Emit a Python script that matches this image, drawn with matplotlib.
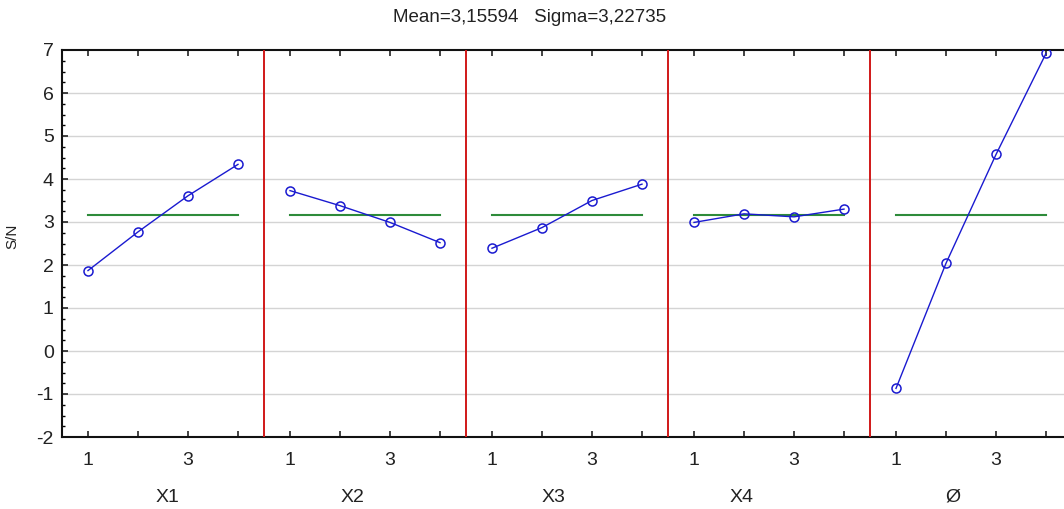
import matplotlib
matplotlib.use("Agg")
import matplotlib.pyplot as plt
from matplotlib.ticker import MultipleLocator, FixedLocator

plt.rcParams['font.family'] = ['Liberation Sans', 'DejaVu Sans']
plt.rcParams['axes.unicode_minus'] = False

# ---- data ----
groups = ["X1", "X2", "X3", "X4", "Ø"]
levels = [1, 2, 3, 4]
level_labels = ["1", "", "3", ""]
values_x1 = [1.87, 2.77, 3.61, 4.34]
values_x2 = [3.73, 3.38, 2.99, 2.52]
values_x3 = [2.39, 2.87, 3.50, 3.88]
values_x4 = [2.99, 3.19, 3.12, 3.30]
values_phi = [-0.87, 2.04, 4.57, 6.92]
series = [values_x1, values_x2, values_x3, values_x4, values_phi]
mean_value = 3.15594
sigma_value = 3.22735
title_text = "Mean=3,15594   Sigma=3,22735"
y_label = "S/N"

# ---- layout ----
W, H = 1064, 509
fig = plt.figure(figsize=(W / 100, H / 100), dpi=100)
step = 4.04
x_left, x_right = 0.48, 4 * step + 4.52
ax_l, ax_r, ax_t, ax_b = 62, 1072, 50, 437
ax = fig.add_axes([ax_l / W, 1 - ax_b / H, (ax_r - ax_l) / W, (ax_b - ax_t) / H])
ax.set_xlim(x_left, x_right)
ax.set_ylim(-2, 7)

# grid
for y in range(-1, 7):
    ax.axhline(y, color="#d4d4d4", lw=1.0, zorder=0)

ticks = []
tick_labels = []
for g, vals in enumerate(series):
    xs = [g * step + l for l in levels]
    ticks += xs
    tick_labels += level_labels
    ax.plot([xs[0], xs[-1]], [mean_value, mean_value], color="#2e8b3a", lw=1.5, zorder=2)
    ax.plot(xs, vals, color="#1a1ad0", lw=1.0, marker="o", ms=6.5, mfc="none",
            mec="#1a1ad0", mew=1.1, zorder=3)
    if g < len(series) - 1:
        ax.axvline(g * step + 4.52, color="#d01818", lw=1.4, zorder=4)

ax.xaxis.set_major_locator(FixedLocator(ticks))
ax.set_xticklabels(tick_labels)
ax.yaxis.set_major_locator(MultipleLocator(1))
ax.yaxis.set_minor_locator(MultipleLocator(0.25))
ax.tick_params(axis="x", direction="in", length=4, width=1.2, top=True, labelsize=14,
               pad=11, colors="#222222")
ax.tick_params(axis="y", which="major", direction="in", length=4, width=1.2, labelsize=14,
               pad=6, colors="#222222")
ax.tick_params(axis="y", which="minor", direction="in", length=2.5, width=1.0)
for s in ax.spines.values():
    s.set_linewidth(1.5)
    s.set_color("#111111")

# group labels
group_offsets = [2.6, 2.24, 2.22, 1.96, 2.14]
for g, name in enumerate(groups):
    xd = g * step + group_offsets[g]
    xp = ax_l + (xd - x_left) / (x_right - x_left) * (ax_r - ax_l)
    fig.text(xp / W, 1 - 497 / H, name, ha="center", va="center", fontsize=14, color="#222222")

fig.text(530 / W, 1 - 18 / H, title_text, ha="center", va="center", fontsize=13.5, color="#222222")
fig.text(12 / W, 1 - 236 / H, y_label, ha="center", va="center", rotation=90, fontsize=11,
         color="#222222")

fig.savefig("out.png", dpi=100)
